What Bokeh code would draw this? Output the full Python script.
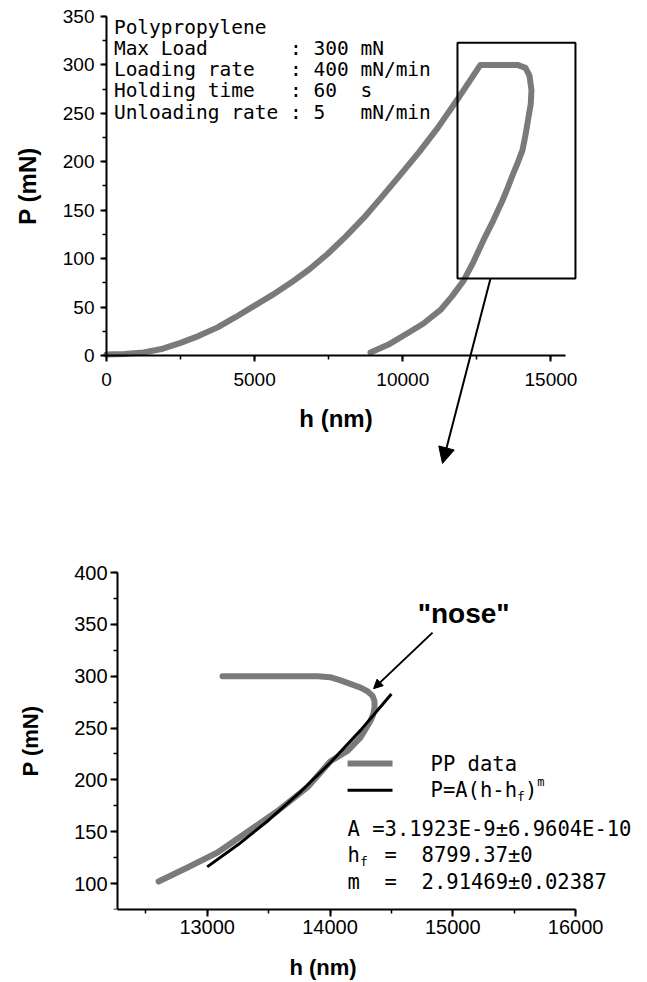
from bokeh.plotting import figure
from bokeh.layouts import column
from bokeh.models import Arrow, NormalHead, Label, SingleIntervalTicker, Range1d
from bokeh.embed import file_html
from bokeh.resources import INLINE

# ---------------- data: top panel (full load-hold-unload curve) ----------------
load_h = [0, 600, 1250, 1900, 2500, 3100, 3750, 4350, 4970, 5600, 6220, 6850, 7470,
          8080, 8680, 9300, 9930, 10550, 11180, 11860, 12620]
load_P = [1, 1.5, 3, 7, 13, 20, 29, 39.5, 51, 62.5, 75, 89, 105,
          123, 142, 164, 187, 210, 235, 265, 300]
hold_h = [12620, 13300, 13871]
hold_P = [300, 300, 300]
unload_h = [13871, 14141, 14276, 14343, 14320, 14242, 14150, 14040, 13880, 13702, 13540,
            13365, 13050, 12723, 12390, 12048, 11660, 11272, 10700, 10159, 9500, 8910]
unload_P = [300, 297, 289, 274, 260, 246, 229, 212, 199, 186, 173,
            160, 139, 119, 97, 77, 61, 47, 33, 23, 11, 3]

box_h = [11846, 15828]          # zoomed region
box_P = [79.5, 323]
zoom_arrow_h = [12960, 11340]
zoom_arrow_P = [79.5, -111.5]

info_names = ["Polypropylene", "Max Load", "Loading rate", "Holding time", "Unloading rate"]
info_vals = ["", "300", "400", "60", "5"]
info_units = ["", "mN", "mN/min", "s", "mN/min"]

# ---------------- data: bottom panel (unloading detail + fit) ----------------
pp_h = [13125, 13540, 13899, 14000, 14086, 14249, 14305, 14347, 14362, 14363, 14352, 14330,
        14249, 14143, 14004, 13817, 13573, 13329, 13084, 12840, 12604]
pp_P = [300, 300, 300, 299, 296, 289, 285.5, 281, 276, 270, 263, 257,
        241, 228, 218, 193, 170, 150, 130, 115.5, 102]
fit_h = [13000, 13250, 13500, 13750, 14000, 14250, 14500]
fit_P = [116.1, 137.4, 161.1, 187.4, 216.3, 248.0, 282.8]

nose_arrow_h = [14835, 14355]
nose_arrow_P = [342, 288]

GRAY = "#7a7a7a"
MONO = "DejaVu Sans Mono"
SANS = "Liberation Sans"


def style(p, tick_font, label_font, tick_out, x_standoff, y_standoff, x_als, y_als):
    p.grid.visible = False
    p.outline_line_color = None
    p.background_fill_color = "white"
    for ax in (p.xaxis[0], p.yaxis[0]):
        ax.axis_line_width = 2
        ax.axis_line_color = "black"
        ax.major_tick_line_width = 2
        ax.minor_tick_line_width = 1.5
        ax.major_tick_in = 0
        ax.major_tick_out = tick_out
        ax.minor_tick_in = 0
        ax.minor_tick_out = 4
        ax.major_label_text_font = SANS
        ax.major_label_text_font_size = tick_font
        ax.major_label_text_color = "black"
        ax.axis_label_text_font = SANS
        ax.axis_label_text_font_style = "bold"
        ax.axis_label_text_font_size = label_font
        ax.axis_label_text_color = "black"
    p.xaxis[0].major_label_standoff = x_standoff
    p.yaxis[0].major_label_standoff = y_standoff
    p.xaxis[0].axis_label_standoff = x_als
    p.yaxis[0].axis_label_standoff = y_als


# ---------------- top figure (axes fixed at h=0 / P=0, frame spans the whole canvas) ----------------
p1 = figure(frame_width=620, frame_height=468,
            x_range=Range1d(-3577, 17348), y_range=Range1d(-116.7, 366.5),
            output_backend="svg", toolbar_location=None,
            min_border_left=0, min_border_top=0, min_border_bottom=0, min_border_right=0,
            x_axis_label="h (nm)", y_axis_label="P (mN)")
p1.xaxis.ticker = SingleIntervalTicker(interval=5000, num_minor_ticks=2)
p1.yaxis.ticker = SingleIntervalTicker(interval=50, num_minor_ticks=2)
p1.xaxis.bounds = (0, 15500)
p1.yaxis.bounds = (0, 350)
p1.xaxis.fixed_location = 0
p1.yaxis.fixed_location = 0
style(p1, "19px", "24px", 6, 12, 6, 15, 19)

p1.line(load_h + hold_h[1:] + unload_h[1:], load_P + hold_P[1:] + unload_P[1:],
        line_color=GRAY, line_width=6, line_join="round", line_cap="round")
p1.quad(left=[box_h[0]], right=[box_h[1]], bottom=[box_P[0]], top=[box_P[1]],
        fill_color=None, line_color="black", line_width=2)
p1.add_layout(Arrow(end=NormalHead(size=16, fill_color="black", line_color="black"),
                    x_start=zoom_arrow_h[0], y_start=zoom_arrow_P[0],
                    x_end=zoom_arrow_h[1], y_end=zoom_arrow_P[1],
                    line_color="black", line_width=2))

cw = 19.5 * 0.602
row_P = [338.6, 317, 295.3, 273.6, 250.9]
for i, name in enumerate(info_names):
    parts = [(name, 0)]
    if info_vals[i]:
        parts += [(":", 15), (info_vals[i], 17), (info_units[i], 21)]
    for txt, col in parts:
        p1.add_layout(Label(x=250, y=row_P[i], text=txt, x_offset=col * cw,
                            text_font=MONO, text_font_size="19.5px",
                            text_baseline="middle", text_color="black"))

# ---------------- bottom figure (y axis fixed at h=12270, frame spans to the canvas edges) ----------------
p2 = figure(frame_width=645, frame_height=441,
            x_range=Range1d(11317, 16569), y_range=Range1d(75, 500.3),
            output_backend="svg", toolbar_location=None,
            min_border_left=0, min_border_top=0, min_border_bottom=30, min_border_right=0,
            x_axis_label="h (nm)", y_axis_label="P (mN)")
p2.xaxis.ticker = SingleIntervalTicker(interval=1000, num_minor_ticks=2)
p2.yaxis.ticker = SingleIntervalTicker(interval=50, num_minor_ticks=2)
p2.xaxis.bounds = (12270, 16000)
p2.yaxis.bounds = (75, 400)
p2.yaxis.fixed_location = 12270
style(p2, "20px", "22px", 7, 3, 3, 18, 28)

p2.line(pp_h, pp_P, line_color=GRAY, line_width=6, line_join="round", line_cap="round")
p2.line(fit_h, fit_P, line_color="black", line_width=3)

p2.add_layout(Label(x=15088, y=360, text='"nose"', text_align="center", text_baseline="middle",
                    text_font=SANS, text_font_style="bold", text_font_size="28px",
                    text_color="black"))
p2.add_layout(Arrow(end=NormalHead(size=9, fill_color="black", line_color="black"),
                    x_start=nose_arrow_h[0], y_start=nose_arrow_P[0],
                    x_end=nose_arrow_h[1], y_end=nose_arrow_P[1],
                    line_color="black", line_width=2))

# legend (manual)
leg_h = [14143, 14509]
p2.line(leg_h, [215.8, 215.8], line_color=GRAY, line_width=6)
p2.line(leg_h, [190, 190], line_color="black", line_width=3)

bw = 20.5 * 0.602
FS = "20.5px"


def mono(x, y, txt, off=0, yoff=0, size=FS):
    p2.add_layout(Label(x=x, y=y, text=txt, x_offset=off, y_offset=yoff,
                        text_font=MONO, text_font_size=size,
                        text_baseline="middle", text_color="black"))


mono(14819, 215.8, "PP data")
mono(14819, 189.8, "P=A(h-h")
mono(14819, 189.8, "f", off=7 * bw, yoff=-6, size="13px")
mono(14819, 189.8, ")", off=7 * bw + 8)
mono(14819, 189.8, "m", off=8 * bw + 8, yoff=8, size="12px")

mono(14143, 153.1, "A =3.1923E-9\u00b16.9604E-10")
mono(14143, 127.1, "h")
mono(14143, 127.1, "f", off=bw, yoff=-6, size="13px")
mono(14143, 127.1, "=", off=3 * bw)
mono(14143, 127.1, "8799.37\u00b10", off=6 * bw)
mono(14143, 101.1, "m")
mono(14143, 101.1, "=", off=3 * bw)
mono(14143, 101.1, "2.91469\u00b10.02387", off=6 * bw)

layout = column(p1, p2)
open("out.html", "w").write(file_html(layout, INLINE))
